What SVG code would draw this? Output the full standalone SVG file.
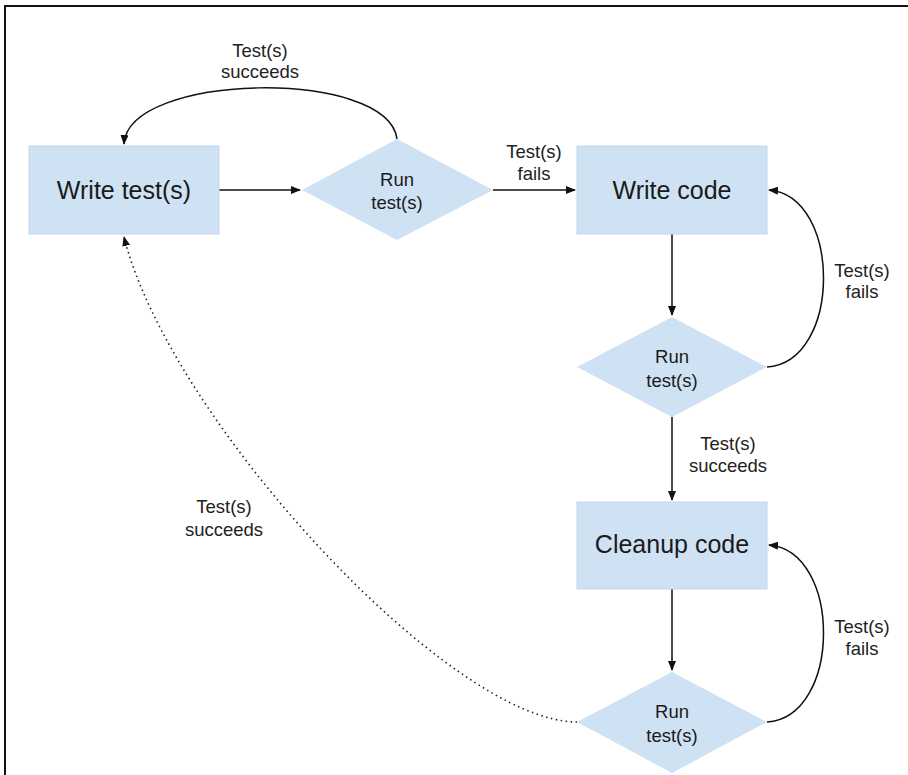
<svg xmlns="http://www.w3.org/2000/svg" width="908" height="775" viewBox="0 0 908 775">
<style>
.box{fill:#cfe2f3;stroke:#c3d6ea;stroke-width:1}
.dia{fill:#cfe2f3;stroke:none}
.node{font-family:"Liberation Sans",Arial,sans-serif;font-size:25px;fill:#1a1a1a;text-anchor:middle}
.dtext{font-family:"Liberation Sans",Arial,sans-serif;font-size:18.5px;fill:#1a1a1a;text-anchor:middle}
.lbl{font-family:"Liberation Sans",Arial,sans-serif;font-size:18.5px;fill:#222;text-anchor:middle}
.con{fill:none;stroke:#111;stroke-width:1.5}
.dot{fill:none;stroke:#222;stroke-width:1.6;stroke-dasharray:1.5 3.5}
</style>
<defs>
<marker id="ah" viewBox="0 0 10 8" refX="9" refY="4" markerWidth="10" markerHeight="8" markerUnits="userSpaceOnUse" orient="auto">
<path d="M0,0 L10,4 L0,8 z" fill="#111"/>
</marker>
</defs>
<rect x="0" y="0" width="908" height="775" fill="#fff"/>
<g id="frame">
<line x1="5" y1="6" x2="908" y2="6" stroke="#111" stroke-width="2"/>
<line x1="5" y1="5" x2="5" y2="775" stroke="#111" stroke-width="2"/>
</g>
<g id="connectors">
<line class="con" x1="219" y1="190" x2="300" y2="190" marker-end="url(#ah)"/>
<line class="con" x1="493" y1="190" x2="575" y2="190" marker-end="url(#ah)"/>
<line class="con" x1="672" y1="234" x2="672" y2="315" marker-end="url(#ah)"/>
<line class="con" x1="672" y1="417" x2="672" y2="500" marker-end="url(#ah)"/>
<line class="con" x1="672" y1="589" x2="672" y2="670" marker-end="url(#ah)"/>
<path class="con" d="M397,139 C388,68 128,72 124,144" marker-end="url(#ah)"/>
<path class="con" d="M767,367 C842,362 842,196 769,190" marker-end="url(#ah)"/>
<path class="con" d="M767,722 C842,717 842,551 769,545" marker-end="url(#ah)"/>
<path class="dot" d="M577,722 C450,722 170,420 124,237" marker-end="url(#ah)"/>
<text class="lbl" x="260" y="57">Test(s)</text>
<text class="lbl" x="260" y="78">succeeds</text>
<text class="lbl" x="534" y="158">Test(s)</text>
<text class="lbl" x="534" y="180">fails</text>
<text class="lbl" x="862" y="277">Test(s)</text>
<text class="lbl" x="862" y="298">fails</text>
<text class="lbl" x="728" y="450">Test(s)</text>
<text class="lbl" x="728" y="472">succeeds</text>
<text class="lbl" x="862" y="633">Test(s)</text>
<text class="lbl" x="862" y="655">fails</text>
<text class="lbl" x="224" y="513">Test(s)</text>
<text class="lbl" x="224" y="536">succeeds</text>
</g>
<g id="write-tests">
<rect class="box" x="29" y="146" width="190" height="88"/>
<text class="node" x="124" y="199">Write test(s)</text>
</g>
<g id="run-tests-1">
<polygon class="dia" points="397,139 493,190 397,240 302,190"/>
<text class="dtext" x="397" y="186">Run</text>
<text class="dtext" x="397" y="209">test(s)</text>
</g>
<g id="write-code">
<rect class="box" x="577" y="146" width="190" height="88"/>
<text class="node" x="672" y="199">Write code</text>
</g>
<g id="run-tests-2">
<polygon class="dia" points="672,317 767,367 672,417 577,367"/>
<text class="dtext" x="672" y="363">Run</text>
<text class="dtext" x="672" y="387">test(s)</text>
</g>
<g id="cleanup-code">
<rect class="box" x="577" y="502" width="190" height="87"/>
<text class="node" x="672" y="553">Cleanup code</text>
</g>
<g id="run-tests-3">
<polygon class="dia" points="672,672 767,722 672,773 577,722"/>
<text class="dtext" x="672" y="718">Run</text>
<text class="dtext" x="672" y="742">test(s)</text>
</g>
</svg>
